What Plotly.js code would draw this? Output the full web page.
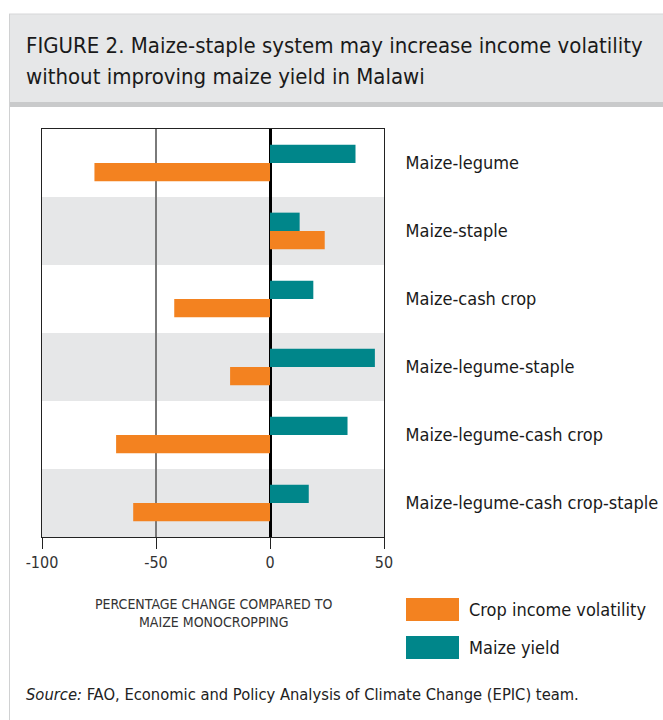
<!DOCTYPE html>
<html>
<head>
<meta charset="utf-8">
<script src="https://cdn.plot.ly/plotly-3.0.1.min.js"></script>
<style>html,body{margin:0;padding:0;background:#fff;}#chart{width:663px;height:720px;}</style>
</head>
<body>
<div id="chart"></div>
<script>
// ---- data ----
const categories = [
  "Maize-legume",
  "Maize-staple",
  "Maize-cash crop",
  "Maize-legume-staple",
  "Maize-legume-cash crop",
  "Maize-legume-cash crop-staple"
];
const maizeYield = [37.5, 13, 19, 46, 34, 17];
const cropIncomeVolatility = [-77, 24, -42, -17.5, -67.5, -60];
const xTicks = [-100, -50, 0, 50];
const seriesNames = ["Crop income volatility", "Maize yield"];

// ---- style ----
const FONT = "'DejaVu Sans Condensed', 'Liberation Sans Narrow', 'Arial Narrow', sans-serif";
const ORANGE = "#F38220";
const TEAL = "#00868A";
const BAND = "#E6E7E8";
const W = 663, H = 720;
const M = {l: 42, r: 279, t: 129, b: 183};
const PW = W - M.l - M.r, PH = H - M.t - M.b;
const px = x => (x - M.l) / PW;
const py = y => (H - M.b - y) / PH;

const traces = [
  {type: "bar", orientation: "h", name: seriesNames[1], y: categories, x: maizeYield,
   marker: {color: TEAL}, hoverinfo: "x+y"},
  {type: "bar", orientation: "h", name: seriesNames[0], y: categories, x: cropIncomeVolatility,
   marker: {color: ORANGE}, hoverinfo: "x+y"}
];

const shapes = [];
// title box
shapes.push({type: "rect", xref: "paper", yref: "paper", x0: px(9), x1: px(663), y0: py(102), y1: py(14),
  fillcolor: BAND, line: {width: 0}, layer: "below"});
shapes.push({type: "rect", xref: "paper", yref: "paper", x0: px(9), x1: px(663), y0: py(107), y1: py(102),
  fillcolor: "#C9CACB", line: {width: 0}, layer: "below"});
shapes.push({type: "line", xref: "paper", yref: "paper", x0: px(9), x1: px(663), y0: py(14), y1: py(14),
  line: {color: "#D6D7D8", width: 1}});
shapes.push({type: "line", xref: "paper", yref: "paper", x0: px(9.5), x1: px(9.5), y0: py(14), y1: py(720),
  line: {color: "#D0D1D2", width: 1}});
// alternating bands
categories.forEach((c, i) => {
  if (i % 2 === 1) {
    shapes.push({type: "rect", xref: "paper", yref: "y", x0: 0, x1: 1, y0: i - 0.5, y1: i + 0.5,
      fillcolor: BAND, line: {width: 0}, layer: "below"});
  }
});
// legend swatches
shapes.push({type: "rect", xref: "paper", yref: "paper", x0: px(406), x1: px(459), y0: py(621), y1: py(598),
  fillcolor: ORANGE, line: {width: 0}});
shapes.push({type: "rect", xref: "paper", yref: "paper", x0: px(406), x1: px(459), y0: py(659), y1: py(636),
  fillcolor: TEAL, line: {width: 0}});

const annotations = [
  {xref: "paper", yref: "paper", x: px(24), y: py(45), xanchor: "left", yanchor: "middle", align: "left",
   showarrow: false, text: "FIGURE 2. Maize-staple system may increase income volatility",
   font: {family: FONT, size: 22, color: "#1a1a1a"}},
  {xref: "paper", yref: "paper", x: px(24), y: py(76), xanchor: "left", yanchor: "middle", align: "left",
   showarrow: false, text: "without improving maize yield in Malawi",
   font: {family: FONT, size: 22, color: "#1a1a1a"}},
  {xref: "paper", yref: "paper", x: 0.5, y: py(613), xanchor: "center", yanchor: "middle", align: "center",
   showarrow: false, text: "PERCENTAGE CHANGE COMPARED TO<br>MAIZE MONOCROPPING",
   font: {family: FONT, size: 14, color: "#333"}},
  {xref: "paper", yref: "paper", x: px(467), y: py(609.5), xanchor: "left", yanchor: "middle",
   showarrow: false, text: seriesNames[0], font: {family: FONT, size: 18, color: "#1a1a1a"}},
  {xref: "paper", yref: "paper", x: px(467), y: py(647.5), xanchor: "left", yanchor: "middle",
   showarrow: false, text: seriesNames[1], font: {family: FONT, size: 18, color: "#1a1a1a"}},
  {xref: "paper", yref: "paper", x: px(24), y: py(694), xanchor: "left", yanchor: "middle",
   showarrow: false, text: "<i>Source:</i> FAO, Economic and Policy Analysis of Climate Change (EPIC) team.",
   font: {family: FONT, size: 16.4, color: "#222"}}
];

const layout = {
  width: W, height: H,
  margin: M,
  paper_bgcolor: "#fff", plot_bgcolor: "#fff",
  showlegend: false,
  barmode: "group", bargap: 0.46, bargroupgap: 0,
  font: {family: FONT},
  xaxis: {
    range: [-100, 50], tickvals: xTicks, ticktext: xTicks.map(String),
    showgrid: true, gridcolor: "#7a7a7a", gridwidth: 1.5,
    zeroline: true, zerolinecolor: "#000", zerolinewidth: 3,
    showline: true, mirror: true, linecolor: "#222", linewidth: 1,
    ticks: "outside", ticklen: 11, tickcolor: "#222", tickwidth: 1,
    tickfont: {family: FONT, size: 16, color: "#333"}, fixedrange: true
  },
  yaxis: {
    type: "category", autorange: "reversed", side: "right",
    showgrid: false, zeroline: false,
    showline: true, mirror: true, linecolor: "#222", linewidth: 1,
    ticks: "", ticklabelstandoff: 17,
    tickfont: {family: FONT, size: 18, color: "#1a1a1a"}, fixedrange: true
  },
  shapes: shapes,
  annotations: annotations
};

Plotly.newPlot("chart", traces, layout, {displayModeBar: false, staticPlot: true});
</script>
</body>
</html>
